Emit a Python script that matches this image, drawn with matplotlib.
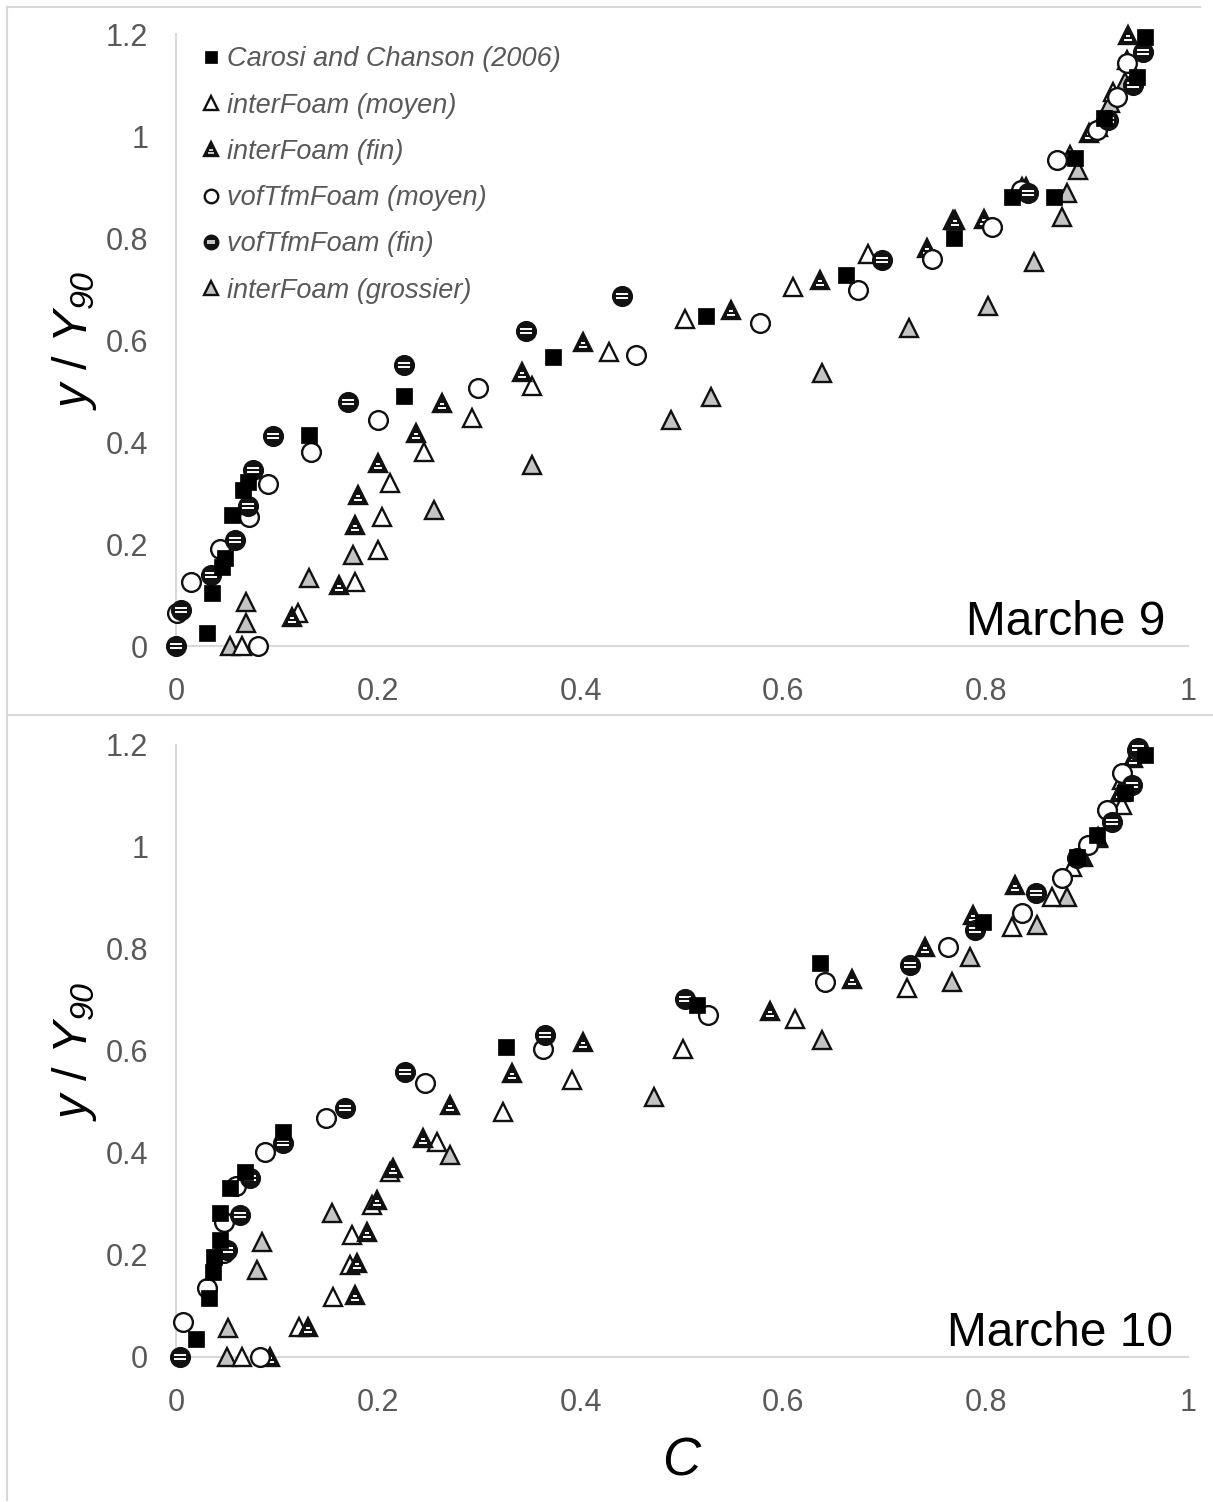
import matplotlib
matplotlib.use("Agg")
import matplotlib.pyplot as plt
from matplotlib.path import Path
from matplotlib.lines import Line2D
from matplotlib.legend_handler import HandlerTuple

plt.rcParams['font.family'] = ['Liberation Sans', 'DejaVu Sans']
plt.rcParams['mathtext.fontset'] = 'custom'
plt.rcParams['mathtext.rm'] = 'Liberation Sans:italic'
plt.rcParams['mathtext.it'] = 'Liberation Sans:italic'
plt.rcParams['mathtext.sf'] = 'Liberation Sans'

# ---------------- Data : Marche 9 ----------------
m9_carosi_C = [0.031, 0.036, 0.045, 0.048, 0.055, 0.066, 0.071, 0.131, 0.225, 0.373, 0.524, 0.662, 0.769, 0.826, 0.868, 0.888, 0.917, 0.950, 0.958]
m9_carosi_y = [0.025, 0.104, 0.155, 0.172, 0.257, 0.306, 0.322, 0.414, 0.490, 0.567, 0.647, 0.727, 0.800, 0.880, 0.880, 0.957, 1.035, 1.116, 1.194]

m9_ifm_C = [0.065, 0.121, 0.177, 0.200, 0.204, 0.211, 0.245, 0.292, 0.352, 0.428, 0.503, 0.610, 0.684, 0.768, 0.836, 0.883, 0.926, 0.940]
m9_ifm_y = [0.000, 0.065, 0.125, 0.188, 0.253, 0.320, 0.380, 0.447, 0.510, 0.576, 0.641, 0.704, 0.769, 0.835, 0.900, 0.963, 1.086, 1.149]

m9_iff_C = [0.115, 0.161, 0.177, 0.180, 0.200, 0.237, 0.263, 0.342, 0.402, 0.548, 0.636, 0.742, 0.770, 0.798, 0.840, 0.902, 0.941]
m9_iff_y = [0.057, 0.120, 0.237, 0.296, 0.358, 0.418, 0.476, 0.537, 0.596, 0.659, 0.718, 0.780, 0.835, 0.838, 0.900, 1.005, 1.198]

m9_vfm_C = [0.001, 0.015, 0.043, 0.072, 0.081, 0.091, 0.133, 0.200, 0.298, 0.455, 0.577, 0.674, 0.747, 0.806, 0.835, 0.871, 0.910, 0.930, 0.940]
m9_vfm_y = [0.065, 0.126, 0.190, 0.253, 0.000, 0.318, 0.380, 0.443, 0.506, 0.571, 0.633, 0.698, 0.759, 0.822, 0.895, 0.953, 1.012, 1.077, 1.143]

m9_vff_C = [0.000, 0.005, 0.035, 0.058, 0.071, 0.076, 0.096, 0.170, 0.225, 0.346, 0.441, 0.698, 0.842, 0.921, 0.946, 0.956]
m9_vff_y = [0.000, 0.070, 0.139, 0.208, 0.275, 0.345, 0.412, 0.478, 0.551, 0.618, 0.686, 0.757, 0.888, 1.031, 1.100, 1.165]

m9_ifg_C = [0.053, 0.069, 0.069, 0.131, 0.175, 0.255, 0.352, 0.489, 0.529, 0.638, 0.724, 0.802, 0.848, 0.875, 0.880, 0.891, 0.911, 0.923, 0.938]
m9_ifg_y = [0.000, 0.045, 0.087, 0.133, 0.178, 0.267, 0.355, 0.443, 0.488, 0.535, 0.624, 0.667, 0.753, 0.841, 0.888, 0.933, 1.018, 1.065, 1.106]

# ---------------- Data : Marche 10 ----------------
m10_carosi_C = [0.020, 0.033, 0.037, 0.038, 0.043, 0.043, 0.053, 0.068, 0.106, 0.326, 0.515, 0.636, 0.797, 0.890, 0.910, 0.938, 0.958]
m10_carosi_y = [0.035, 0.116, 0.167, 0.196, 0.229, 0.282, 0.331, 0.363, 0.441, 0.608, 0.690, 0.772, 0.853, 0.980, 1.024, 1.106, 1.180]

m10_ifm_C = [0.065, 0.122, 0.155, 0.172, 0.174, 0.194, 0.211, 0.258, 0.323, 0.391, 0.501, 0.612, 0.722, 0.826, 0.866, 0.885, 0.935, 0.941]
m10_ifm_y = [0.000, 0.059, 0.118, 0.180, 0.239, 0.298, 0.363, 0.422, 0.480, 0.543, 0.604, 0.663, 0.724, 0.843, 0.902, 0.960, 1.082, 1.137]

m10_iff_C = [0.093, 0.130, 0.177, 0.179, 0.189, 0.199, 0.214, 0.244, 0.271, 0.332, 0.402, 0.587, 0.668, 0.740, 0.788, 0.829, 0.896, 0.911, 0.933, 0.946]
m10_iff_y = [0.000, 0.059, 0.122, 0.184, 0.245, 0.308, 0.370, 0.430, 0.494, 0.557, 0.618, 0.678, 0.741, 0.804, 0.867, 0.925, 0.980, 1.020, 1.108, 1.175]

m10_vfm_C = [0.007, 0.031, 0.047, 0.047, 0.059, 0.083, 0.088, 0.148, 0.246, 0.363, 0.526, 0.641, 0.763, 0.836, 0.875, 0.901, 0.920, 0.935, 0.950]
m10_vfm_y = [0.068, 0.135, 0.204, 0.265, 0.335, 0.000, 0.402, 0.468, 0.537, 0.604, 0.671, 0.735, 0.804, 0.870, 0.939, 1.004, 1.073, 1.145, 1.190]

m10_vff_C = [0.004, 0.050, 0.063, 0.073, 0.106, 0.167, 0.226, 0.365, 0.503, 0.725, 0.790, 0.850, 0.890, 0.925, 0.945, 0.951]
m10_vff_y = [0.000, 0.210, 0.278, 0.351, 0.420, 0.488, 0.559, 0.631, 0.702, 0.768, 0.837, 0.910, 0.978, 1.049, 1.121, 1.194]

m10_ifg_C = [0.050, 0.051, 0.080, 0.085, 0.154, 0.271, 0.472, 0.638, 0.767, 0.785, 0.851, 0.880, 0.911, 0.935]
m10_ifg_y = [0.000, 0.057, 0.171, 0.225, 0.282, 0.396, 0.510, 0.622, 0.735, 0.784, 0.847, 0.902, 1.018, 1.131]

labels = ["Carosi and Chanson (2006)", "interFoam (moyen)", "interFoam (fin)",
          "vofTfmFoam (moyen)", "vofTfmFoam (fin)", "interFoam (grossier)"]
xticks = [0, 0.2, 0.4, 0.6, 0.8, 1]
xticklabels = ["0", "0.2", "0.4", "0.6", "0.8", "1"]
yticks = [0, 0.2, 0.4, 0.6, 0.8, 1, 1.2]
yticklabels = ["0", "0.2", "0.4", "0.6", "0.8", "1", "1.2"]
panel_titles = ["Marche 9", "Marche 10"]

# ---------------- Styles ----------------
def stripe_path(segs):
    verts = [(-1, -1), (1, 1)]
    codes = [Path.MOVETO, Path.MOVETO]
    for (y, x0, x1) in segs:
        verts += [(x0, y), (x1, y)]
        codes += [Path.MOVETO, Path.LINETO]
    return Path(verts, codes)

circ_stripes = stripe_path([(0.2, -0.6, 0.6), (-0.22, -0.62, 0.62)])
tri_stripes = stripe_path([(-0.12, -0.26, 0.26), (-0.52, -0.42, 0.42)])

MS = 13.5
EW = 1.7
GRAY_FILL = '#c4c4c4'
EDGE = '#111111'

styles = {
    'carosi': dict(marker='s', ms=MS * 0.9, mfc='black', mec='black', mew=0.5),
    'ifm': dict(marker='^', ms=MS, mfc='white', mec=EDGE, mew=EW),
    'iff': dict(marker='^', ms=MS, mfc=EDGE, mec=EDGE, mew=EW),
    'vfm': dict(marker='o', ms=MS, mfc='white', mec=EDGE, mew=EW),
    'vff': dict(marker='o', ms=MS, mfc=EDGE, mec=EDGE, mew=EW),
    'ifg': dict(marker='^', ms=MS, mfc=GRAY_FILL, mec=EDGE, mew=EW),
}
stripe_for = {'iff': tri_stripes, 'vff': circ_stripes}

W, H = 1213, 1502
fig = plt.figure(figsize=(W / 100, H / 100), dpi=100)

def fx(px):
    return px / W

def fy(py):
    return 1 - py / H

panels = [
    dict(top=34, bottom=646, data={
        'carosi': (m9_carosi_C, m9_carosi_y), 'ifm': (m9_ifm_C, m9_ifm_y),
        'iff': (m9_iff_C, m9_iff_y), 'vfm': (m9_vfm_C, m9_vfm_y),
        'vff': (m9_vff_C, m9_vff_y), 'ifg': (m9_ifg_C, m9_ifg_y)}),
    dict(top=745, bottom=1357, data={
        'carosi': (m10_carosi_C, m10_carosi_y), 'ifm': (m10_ifm_C, m10_ifm_y),
        'iff': (m10_iff_C, m10_iff_y), 'vfm': (m10_vfm_C, m10_vfm_y),
        'vff': (m10_vff_C, m10_vff_y), 'ifg': (m10_ifg_C, m10_ifg_y)}),
]

order = ['ifg', 'ifm', 'iff', 'vfm', 'vff', 'carosi']
TICK_COLOR = '#595959'
SPINE_COLOR = '#d9d9d9'

axes = []
for i, p in enumerate(panels):
    left, right = 176, 1188
    ax = fig.add_axes([fx(left), fy(p['bottom']), (right - left) / W, (p['bottom'] - p['top']) / H])
    ax.set_xlim(0, 1)
    ax.set_ylim(0, 1.2)
    for s in ['top', 'right']:
        ax.spines[s].set_visible(False)
    for s in ['left', 'bottom']:
        ax.spines[s].set_color(SPINE_COLOR)
        ax.spines[s].set_linewidth(1.5)
    ax.set_xticks(xticks)
    ax.set_xticklabels(xticklabels)
    ax.set_yticks(yticks)
    ax.set_yticklabels(yticklabels)
    ax.tick_params(length=0, labelsize=22, labelcolor=TICK_COLOR, pad=20)
    ax.tick_params(axis='x', pad=22)
    for z, key in enumerate(order):
        Cx, Cy = p['data'][key]
        st = styles[key]
        ax.plot(Cx, Cy, ls='none', marker=st['marker'], markersize=st['ms'],
                markerfacecolor=st['mfc'], markeredgecolor=st['mec'],
                markeredgewidth=st['mew'], zorder=3 + z, clip_on=False)
        if key in stripe_for:
            ax.plot(Cx, Cy, ls='none', marker=stripe_for[key], markersize=st['ms'],
                    markerfacecolor='none', markeredgecolor='white',
                    markeredgewidth=1.4, zorder=3 + z + 0.5, clip_on=False)
    ax.text(0.978 if i == 0 else 0.985, 0.002, panel_titles[i], transform=ax.transAxes,
            ha='right', va='bottom', fontsize=34.5, color='black')
    ax.set_ylabel(r'$y\ \mathsf{/}\ Y_{90}$', fontsize=35, color='black', labelpad=5)
    axes.append(ax)

axes[1].set_xlabel(r'$C$', fontsize=38, labelpad=13)

# legend (top panel)
handles = []
for key in ['carosi', 'ifm', 'iff', 'vfm', 'vff', 'ifg']:
    st = styles[key]
    h = Line2D([], [], ls='none', marker=st['marker'], markersize=st['ms'],
               markerfacecolor=st['mfc'], markeredgecolor=st['mec'], markeredgewidth=st['mew'])
    if key in stripe_for:
        s = Line2D([], [], ls='none', marker=stripe_for[key], markersize=st['ms'],
                   markerfacecolor='none', markeredgecolor='white', markeredgewidth=1.1)
        handles.append((h, s))
    else:
        handles.append(h)

leg = axes[0].legend(handles, labels, handler_map={tuple: HandlerTuple(ndivide=1)},
                     loc='upper left', bbox_to_anchor=(0.027, 0.98), frameon=False,
                     prop={'family': 'Liberation Sans', 'style': 'italic', 'size': 19.5},
                     labelcolor=TICK_COLOR, markerscale=0.72, handlelength=0.6,
                     handletextpad=0.26, labelspacing=0.75, borderaxespad=0, borderpad=0)

# figure border lines
lc = SPINE_COLOR
fig.add_artist(Line2D([fx(7), fx(1200)], [fy(7), fy(7)], color=lc, lw=1.5))
fig.add_artist(Line2D([fx(7), fx(7)], [fy(7), fy(1500)], color=lc, lw=1.5))
fig.add_artist(Line2D([fx(7), fx(1213)], [fy(715), fy(715)], color=lc, lw=1.5))

fig.savefig('out.png', dpi=100)
